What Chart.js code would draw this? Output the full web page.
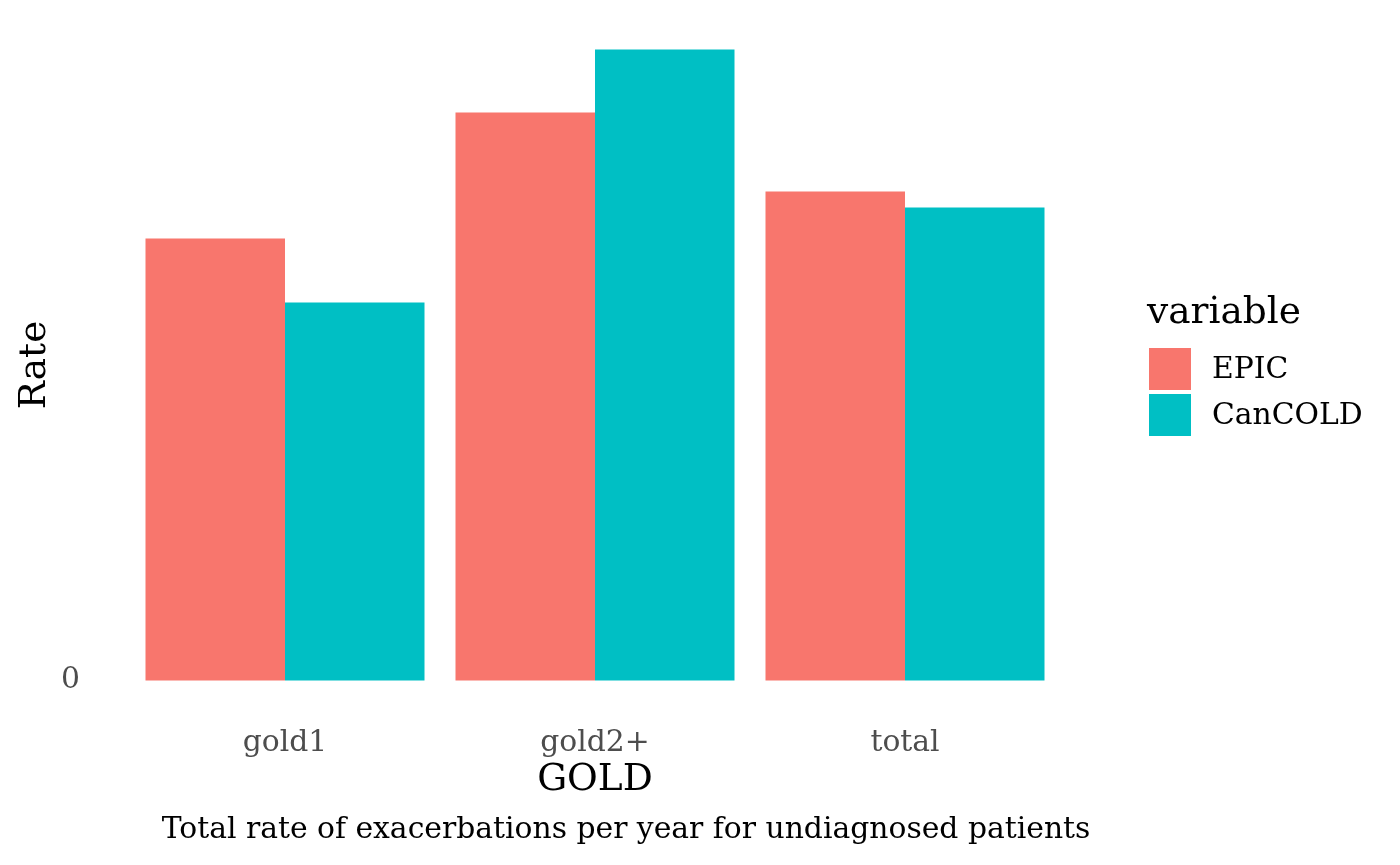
<!DOCTYPE html>
<html>
<head>
<meta charset="utf-8">
<script src="https://cdn.jsdelivr.net/npm/chart.js@4.4.0/dist/chart.umd.min.js"></script>
<style>
  html, body { margin: 0; padding: 0; background: #fff; }
  #wrap { width: 1400px; height: 865px; }
</style>
</head>
<body>
<div id="wrap"><canvas id="rateChart" width="1400" height="865"></canvas></div>
<script>
// values (rates, arbitrary units since only 0 is labelled)
const categories = ["gold1", "gold2+", "total"];
const seriesNames = ["EPIC", "CanCOLD"];
const epicValues = [0.442, 0.568, 0.489];
const cancoldValues = [0.378, 0.631, 0.473];
const yTickValues = [0];

const colors = ["#F8766D", "#00BFC4"];
const FONT = "'DejaVu Serif', serif";
const TITLE_SIZE = 37.5;
const TEXT_SIZE = 29.8;

const maxVal = Math.max(...epicValues, ...cancoldValues);
const pad = maxVal * 0.05; // ggplot style 5% expansion

// draws axis titles, caption and legend like the ggplot output
const annotations = {
    id: "annotations",
    afterDraw(chart) {
        const ctx = chart.ctx;
        const area = chart.chartArea;
        ctx.save();
        ctx.fillStyle = "#000";
        ctx.textBaseline = "middle";
        ctx.textAlign = "center";

        // x title
        ctx.font = TITLE_SIZE + "px " + FONT;
        ctx.fillText("GOLD", (area.left + area.right) / 2, 780);

        // y title
        ctx.save();
        ctx.translate(35, 365);
        ctx.rotate(-Math.PI / 2);
        ctx.fillText("Rate", 0, 0);
        ctx.restore();

        // caption
        ctx.font = TEXT_SIZE + "px " + FONT;
        ctx.fillText("Total rate of exacerbations per year for undiagnosed patients", 626, 830);

        // legend
        ctx.textAlign = "left";
        ctx.font = TITLE_SIZE + "px " + FONT;
        ctx.fillText("variable", 1147, 313);
        ctx.font = TEXT_SIZE + "px " + FONT;
        seriesNames.forEach((name, i) => {
            const top = 348 + i * 46;
            ctx.fillStyle = colors[i];
            ctx.fillRect(1149, top, 42, 42);
            ctx.fillStyle = "#000";
            ctx.fillText(name, 1212, top + 22);
        });
        ctx.restore();
    }
};

const ctx = document.getElementById("rateChart").getContext("2d");
new Chart(ctx, {
    type: "bar",
    data: {
        labels: categories,
        datasets: [
            { label: seriesNames[0], data: epicValues, backgroundColor: colors[0] },
            { label: seriesNames[1], data: cancoldValues, backgroundColor: colors[1] }
        ]
    },
    options: {
        responsive: false,
        animation: false,
        layout: { padding: { left: 0, right: 340, top: 18, bottom: 0 } },
        datasets: {
            bar: { categoryPercentage: 0.9, barPercentage: 1.0, borderWidth: 0 }
        },
        scales: {
            x: {
                offset: true,
                grid: { display: false, drawTicks: false },
                border: { display: false },
                ticks: {
                    color: "#4D4D4D",
                    font: { family: FONT, size: TEXT_SIZE },
                    padding: 13
                },
                afterFit: scale => {
                    scale.height = 153;
                    scale.paddingLeft = 0;
                    scale.paddingRight = 0;
                }
            },
            y: {
                min: -pad,
                max: maxVal + pad,
                grid: { display: false, drawTicks: false },
                border: { display: false },
                afterBuildTicks: scale => {
                    scale.ticks = yTickValues.map(v => ({ value: v }));
                },
                ticks: {
                    color: "#4D4D4D",
                    font: { family: FONT, size: TEXT_SIZE },
                    padding: 50
                },
                afterFit: scale => {
                    scale.width = 130;
                    scale.paddingTop = 0;
                    scale.paddingBottom = 0;
                }
            }
        },
        plugins: {
            legend: { display: false },
            tooltip: { enabled: false }
        }
    },
    plugins: [annotations]
});
</script>
</body>
</html>
